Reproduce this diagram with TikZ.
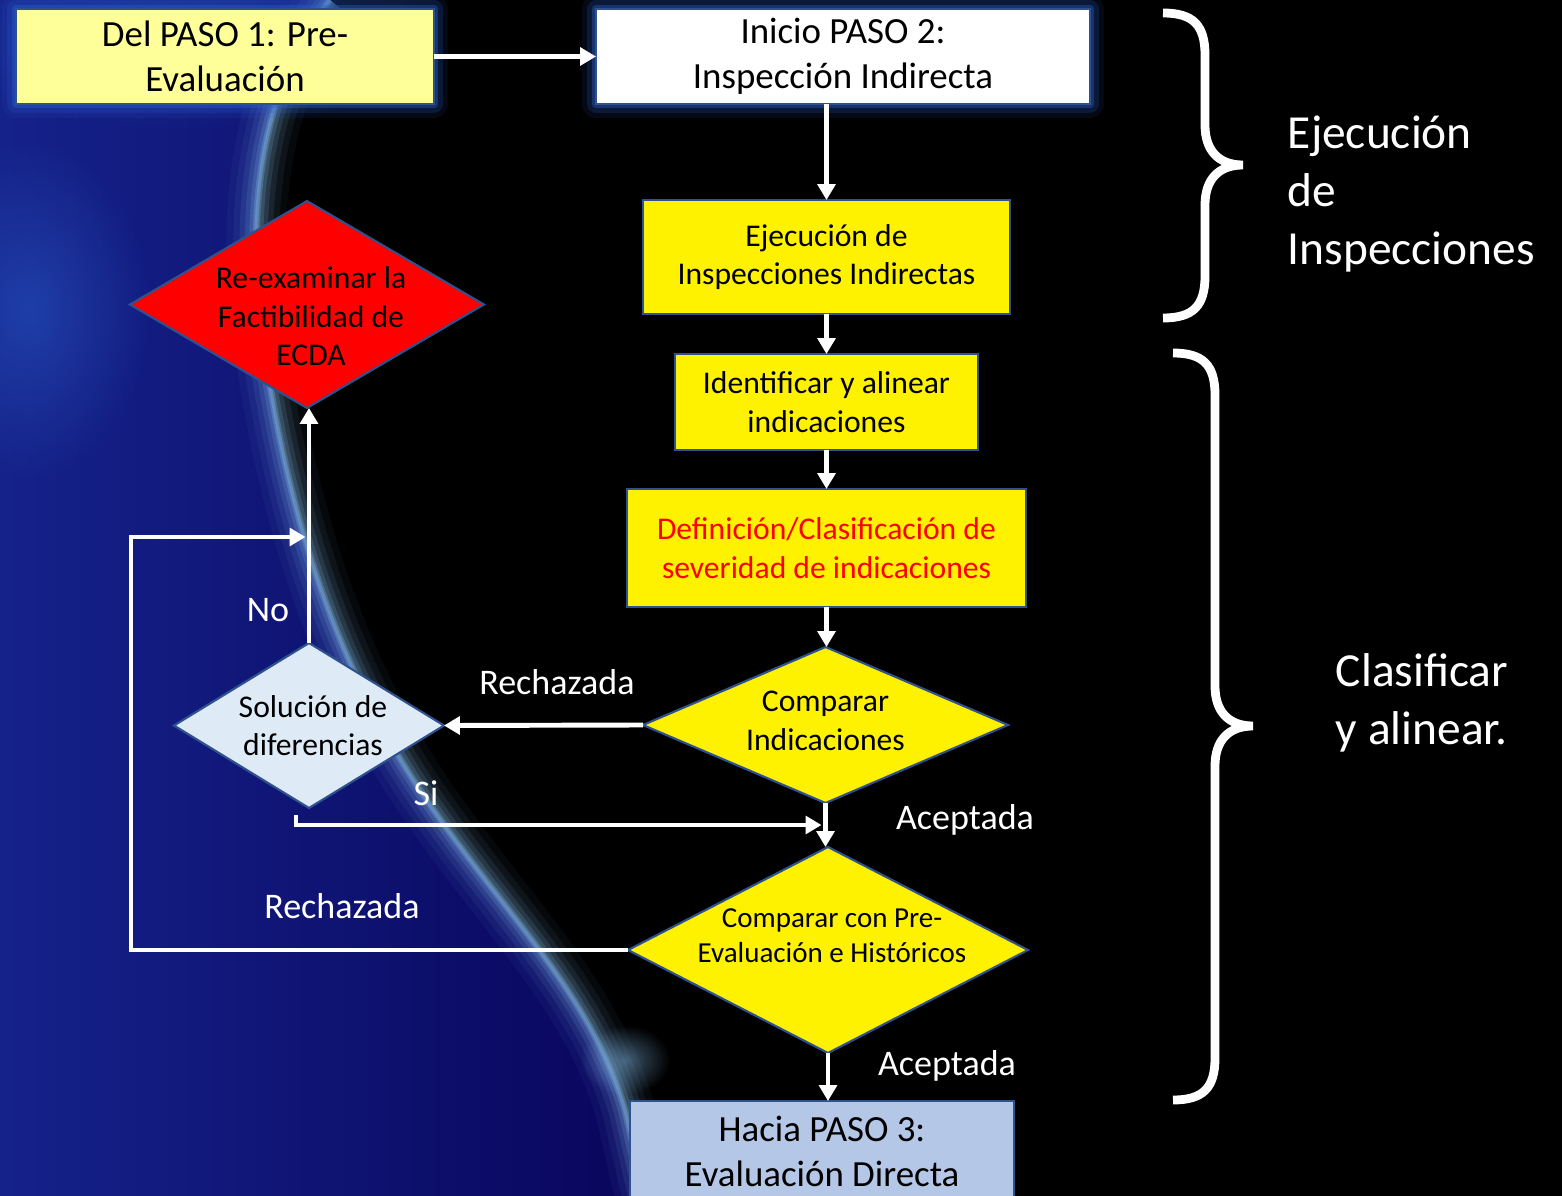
\documentclass[tikz,border=0pt]{standalone}
\usepackage{fontspec}
\setmainfont{Carlito}
\usepackage{xcolor}
\definecolor{navy}{HTML}{09055C}
\definecolor{navyleft}{HTML}{15228A}
\definecolor{limbblue}{HTML}{7DB2E0}
\definecolor{glow}{HTML}{2A5CC8}
\definecolor{edge}{HTML}{2F528F}
\definecolor{paleyellow}{HTML}{FFFF99}
\definecolor{stepblue}{HTML}{B4C7E7}
\definecolor{paleblue}{HTML}{DEEBF7}
\usepackage{tikz}
\usetikzlibrary{shapes.geometric, arrows.meta, calc, fadings}
\tikzfading[name=softspot, inner color=transparent!0, outer color=transparent!100]

\newcommand{\pix}{0.02cm}
\newcommand{\bigtxt}{\fontsize{21}{25.6}\selectfont}
\newcommand{\midtxt}{\fontsize{18}{21.9}\selectfont}
\newcommand{\smtxt}{\fontsize{16.5}{20}\selectfont}
\newcommand{\lbltxt}{\fontsize{20.5}{24}\selectfont}
\newcommand{\sidetxt}{\fontsize{27}{33}\selectfont}

\begin{document}
\begin{tikzpicture}[x=0.02cm, y=-0.02cm,
  every node/.style={outer sep=0pt},
  box/.style={draw=edge, line width=1.2pt, rectangle, inner sep=0pt, align=center, text=black},
  dia/.style={draw=edge, line width=1.2pt, diamond, inner sep=0pt},
  halo/.style={preaction={draw=glow, line width=16pt, line join=round, opacity=0.1},
               preaction={draw=glow, line width=10pt, line join=round, opacity=0.2},
               preaction={draw=glow, line width=5pt, line join=round, opacity=0.4}},
  conn/.style={draw=white, line width=2.8pt, -{Triangle[length=9pt,width=10pt]}},
  lbl/.style={text=white, font=\lbltxt},
  side/.style={text=white, font=\sidetxt, align=left, anchor=west}]
  \useasboundingbox (0,0) rectangle (1562,1196);
  \fill[black] (0,0) rectangle (1562,1196);
  \def\limb{(330,0) .. controls (265,80) and (245,200) .. (262,330) .. controls (280,470) and (320,640) .. (420,790) .. controls (500,910) and (590,990) .. (625,1110) -- (645,1196)}
  \shade[left color=navyleft, right color=navy] \limb -- (0,1196) -- (0,0) -- cycle;
  \fill[glow, opacity=0.5, path fading=softspot] (30,310) ellipse (120 and 170);
  \fill[glow, opacity=0.4, path fading=softspot] (180,40) ellipse (260 and 90);
  \fill[limbblue, opacity=0.5, path fading=softspot] (625,1060) ellipse (45 and 35);
  \foreach \w/\o in {34/0.05, 26/0.07, 19/0.1, 13/0.14, 8/0.2, 4/0.3, 2/0.4}
    \draw[limbblue, line width=\w pt, opacity=\o] \limb;

  \node[box, halo, fill=paleyellow, minimum width=418*\pix, minimum height=95*\pix, font=\bigtxt] (pre) at (225,56.5) {Del PASO 1: Pre-\\Evaluación};
  \node[box, halo, fill=white, minimum width=494*\pix, minimum height=95*\pix, font=\bigtxt] (ini) at (843,56.5) {Inicio PASO 2:\\Inspección Indirecta};
  \node[box, fill=yellow, minimum width=367*\pix, minimum height=114*\pix, font=\midtxt] (eje) at (826.5,257) {Ejecución de\\Inspecciones Indirectas};
  \node[box, fill=yellow, minimum width=303*\pix, minimum height=96*\pix, font=\midtxt] (ide) at (826.5,402) {Identificar y alinear\\indicaciones};
  \node[box, fill=yellow, minimum width=399*\pix, minimum height=118*\pix, font=\midtxt, text=red] (def) at (826.5,548) {Definición/Clasificación de\\severidad de indicaciones};
  \node[dia, fill=yellow, minimum width=365*\pix, minimum height=156*\pix,
        label={[font=\midtxt, align=center, yshift=4*\pix]center:{Comparar\\Indicaciones}}] (cmp) at (825.5,725) {};
  \node[dia, fill=yellow, minimum width=400*\pix, minimum height=206*\pix,
        label={[font=\smtxt, align=center, xshift=4*\pix, yshift=14*\pix]center:{Comparar con Pre-\\Evaluación e Históricos}}] (cph) at (828,950) {};
  \node[dia, fill=paleblue, minimum width=270*\pix, minimum height=165*\pix,
        label={[font=\midtxt, align=center, xshift=4*\pix]center:{Solución de\\diferencias}}] (sol) at (309,725.5) {};
  \node[dia, fill=red, minimum width=354*\pix, minimum height=207*\pix,
        label={[font=\midtxt, align=center, xshift=4*\pix, yshift=-12*\pix]center:{Re-examinar la\\Factibilidad de\\ECDA}}] (rex) at (307,304.5) {};
  \node[box, fill=stepblue, minimum width=384*\pix, minimum height=100*\pix, font=\bigtxt] (pas) at (822,1151) {Hacia PASO 3:\\Evaluación Directa};

  \draw[conn] (pre.east) -- (ini.west);
  \draw[conn] (eje.north |- ini.south) -- (eje.north);
  \foreach \a/\b in {eje/ide, ide/def, def/cmp}
    \draw[conn] (\a.south) -- (\a.south |- \b.north);
  \draw[conn] (cmp.south) -- (cmp.south |- cph.north);
  \draw[conn] (cph.south) -- (cph.south |- pas.north);
  \draw[conn] (cmp.west) -- (sol.east);
  \draw[conn] (sol.north) -- (sol.north |- rex.south);
  \coordinate (si) at (296,815);
  \draw[conn, shorten >=3pt] (si) |- ($(cmp.south)!0.5!(cph.north)$);
  \coordinate (lp) at (131,537);
  \draw[conn, shorten >=2pt] (cph.west) -| (lp) -- (sol.north |- lp);

  \node[lbl] (rej1) at (557,682) {Rechazada};
  \node[lbl] (no) at (268,610) {No};
  \node[lbl] (sil) at (426,793) {Si};
  \node[lbl] (acc1) at (965,820) {Aceptada};
  \node[lbl] (rej2) at (342,906) {Rechazada};
  \node[lbl] (acc2) at (947,1066) {Aceptada};

  \foreach \bx/\bt/\bm/\bb in {1163/13/165/318, 1173/353/726/1100}
    \draw[white, line width=5pt] (\bx,\bt) .. controls (\bx+30,\bt) and (\bx+42,\bt+12) .. (\bx+42,\bt+42)
      -- (\bx+42,\bm-40) .. controls (\bx+42,\bm-15) and (\bx+55,\bm) .. (\bx+80,\bm)
      .. controls (\bx+55,\bm) and (\bx+42,\bm+15) .. (\bx+42,\bm+40)
      -- (\bx+42,\bb-42) .. controls (\bx+42,\bb-12) and (\bx+30,\bb) .. (\bx,\bb);
  \node[side] (ejeside) at (1282,194) {Ejecución\\de\\Inspecciones};
  \node[side] (claside) at (1330,703) {Clasificar\\y alinear.};
\end{tikzpicture}
\end{document}
